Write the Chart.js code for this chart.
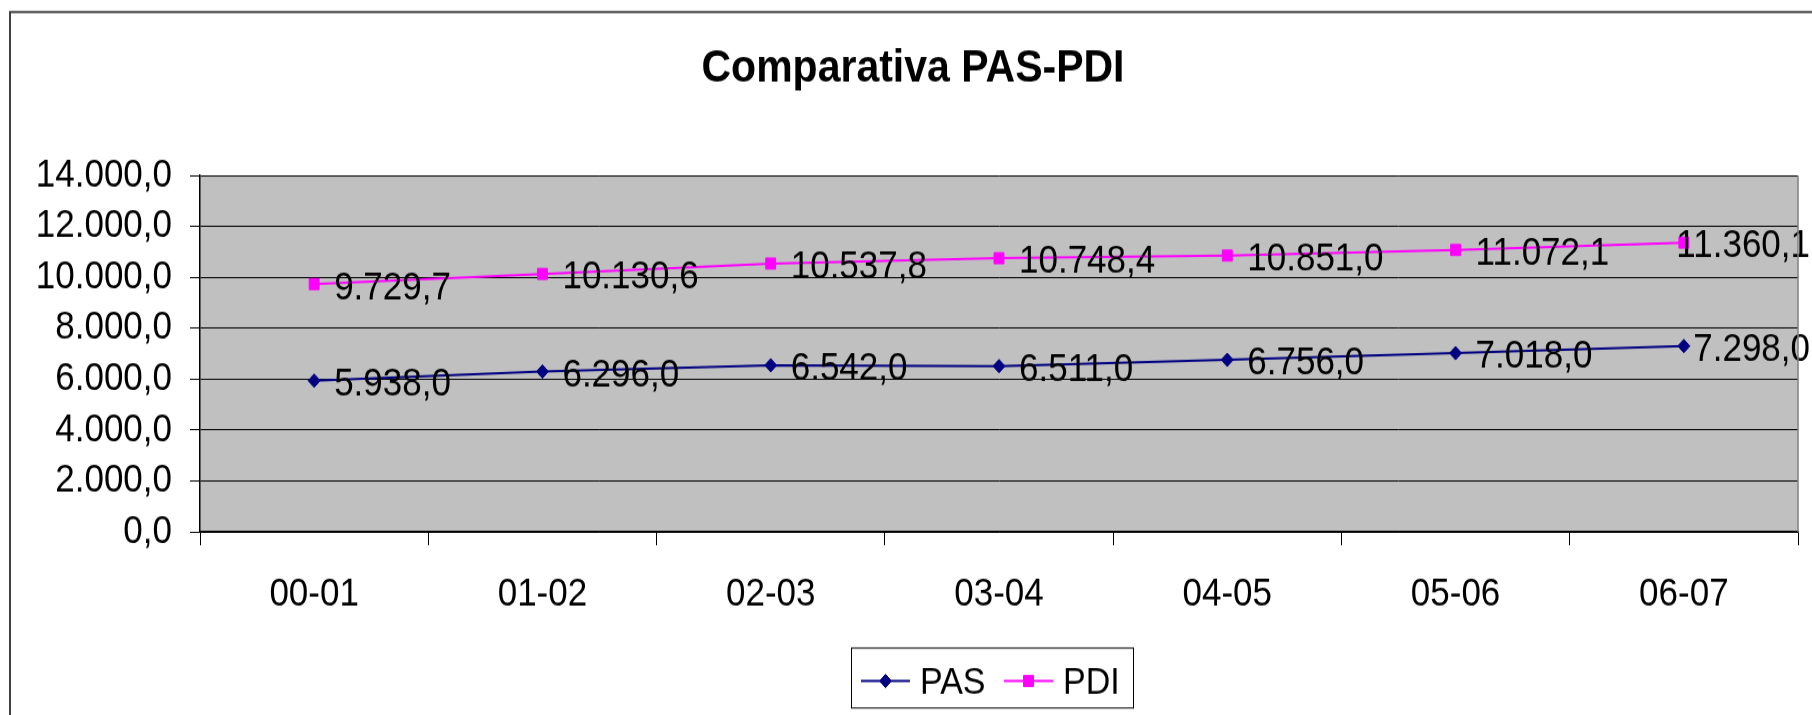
<!DOCTYPE html>
<html>
<head>
<meta charset="utf-8">
<title>Comparativa PAS-PDI</title>
<script src="https://cdn.jsdelivr.net/npm/chart.js@4.4.1/dist/chart.umd.min.js"></script>
<style>
  html, body { margin: 0; padding: 0; background: #fff; overflow: hidden; }
</style>
</head>
<body>
<!-- drawn at 640px high and shown at 715px: the original picture is stretched vertically -->
<canvas id="chart" width="1812" height="640" style="display:block;width:1812px;height:715px"></canvas>
<script>
const CURSOS = ['00-01', '01-02', '02-03', '03-04', '04-05', '05-06', '06-07'];
const PAS = [5938.0, 6296.0, 6542.0, 6511.0, 6756.0, 7018.0, 7298.0];
const PDI = [9729.7, 10130.6, 10537.8, 10748.4, 10851.0, 11072.1, 11360.1];
const Y_MAX = 14000;
const Y_STEP = 2000;
const TITULO = 'Comparativa PAS-PDI';

const FONT = "Arial, 'Liberation Sans', sans-serif";
const NAVY = '#000080';
const MAGENTA = '#FF00FF';
const K = 640 / 715; // screen y -> canvas y

// 14000 -> "14.000,0"
function fmt(v) {
  const parts = v.toFixed(1).split('.');
  return parts[0].replace(/\B(?=(\d{3})+(?!\d))/g, '.') + ',' + parts[1];
}

const decor = {
  id: 'decor',
  beforeDraw(chart) {
    const { ctx, chartArea: a } = chart;
    ctx.save();
    ctx.strokeStyle = '#404040';
    ctx.lineWidth = 2;
    ctx.strokeRect(10, 12 * K, 1900, 800);
    ctx.fillStyle = '#C0C0C0';
    ctx.fillRect(a.left, a.top, a.right - a.left, a.bottom - a.top);
    ctx.restore();
  },
  afterDatasetsDraw(chart) {
    const { ctx } = chart;
    ctx.save();
    ctx.font = '35px ' + FONT;
    ctx.fillStyle = '#000';
    ctx.textAlign = 'left';
    ctx.textBaseline = 'middle';
    chart.data.datasets.forEach((ds, i) => {
      chart.getDatasetMeta(i).data.forEach((pt, j) => {
        const txt = fmt(ds.data[j]);
        const w = ctx.measureText(txt).width;
        const x = Math.min(pt.x + 20, 1810 - w);
        ctx.fillText(txt, x, pt.y + 4 * K);
      });
    });
    ctx.restore();
  },
  afterDraw(chart) {
    const { ctx, chartArea: a } = chart;
    ctx.save();
    ctx.strokeStyle = '#808080';
    ctx.lineWidth = 1.5;
    ctx.beginPath();
    ctx.moveTo(a.right, a.top);
    ctx.lineTo(a.right, a.bottom);
    ctx.stroke();

    ctx.fillStyle = '#000';
    ctx.font = 'bold 41px ' + FONT;
    ctx.textAlign = 'center';
    ctx.textBaseline = 'alphabetic';
    ctx.fillText(TITULO, 913, 82 * K);
    ctx.restore();

    // legend
    ctx.save();
    const top = 648 * K, h = 60 * K, ly = 681 * K;
    ctx.fillStyle = '#fff';
    ctx.fillRect(851.5, top, 282, h);
    ctx.strokeStyle = '#000';
    ctx.lineWidth = 1;
    ctx.strokeRect(851.5, top, 282, h);
    const items = [
      { ds: chart.data.datasets[0], x: 861 },
      { ds: chart.data.datasets[1], x: 1004 }
    ];
    ctx.font = '34px ' + FONT;
    ctx.textBaseline = 'middle';
    ctx.textAlign = 'left';
    items.forEach(it => {
      ctx.strokeStyle = it.ds.borderColor;
      ctx.lineWidth = 2;
      ctx.beginPath();
      ctx.moveTo(it.x, ly);
      ctx.lineTo(it.x + 49, ly);
      ctx.stroke();
      ctx.fillStyle = it.ds.borderColor;
      ctx.lineWidth = 1;
      Chart.helpers.drawPoint(ctx, { pointStyle: it.ds.pointStyle, radius: it.ds.pointRadius, borderWidth: 1 }, it.x + 24.5, ly);
      ctx.fillStyle = '#000';
      ctx.fillText(it.ds.label, it.x + 59, ly + 2);
    });
    ctx.restore();
  }
};

new Chart(document.getElementById('chart'), {
  type: 'line',
  data: {
    labels: CURSOS,
    datasets: [
      {
        label: 'PAS',
        data: PAS,
        borderColor: NAVY,
        backgroundColor: NAVY,
        borderWidth: 2,
        pointStyle: 'rectRot',
        pointRadius: 6,
        pointBorderWidth: 1,
        tension: 0
      },
      {
        label: 'PDI',
        data: PDI,
        borderColor: MAGENTA,
        backgroundColor: MAGENTA,
        borderWidth: 2,
        pointStyle: 'rect',
        pointRadius: 7,
        pointBorderWidth: 1,
        tension: 0
      }
    ]
  },
  options: {
    responsive: false,
    animation: false,
    devicePixelRatio: 1,
    layout: { padding: { left: 0, right: 14, top: Math.round(175 * K), bottom: 0 } },
    plugins: {
      legend: { display: false },
      title: { display: false },
      tooltip: { enabled: false }
    },
    scales: {
      x: {
        offset: true,
        grid: { offset: true, drawOnChartArea: false, drawTicks: true, tickLength: 12, color: '#000', lineWidth: 1 },
        border: { display: true, color: '#000', width: 1.5 },
        ticks: { color: '#000', font: { family: FONT, size: 35 }, padding: 23, maxRotation: 0, autoSkip: false },
        afterFit(scale) { scale.height = 640 - Math.round(532 * K); }
      },
      y: {
        min: 0,
        max: Y_MAX,
        grid: { color: '#000', lineWidth: 1, drawTicks: true, tickLength: 10 },
        border: { display: true, color: '#000', width: 1.5 },
        ticks: { stepSize: Y_STEP, color: '#000', font: { family: FONT, size: 35 }, padding: 18, callback: v => fmt(v) },
        afterFit(scale) { scale.width = 200; }
      }
    }
  },
  plugins: [decor]
});
</script>
</body>
</html>
